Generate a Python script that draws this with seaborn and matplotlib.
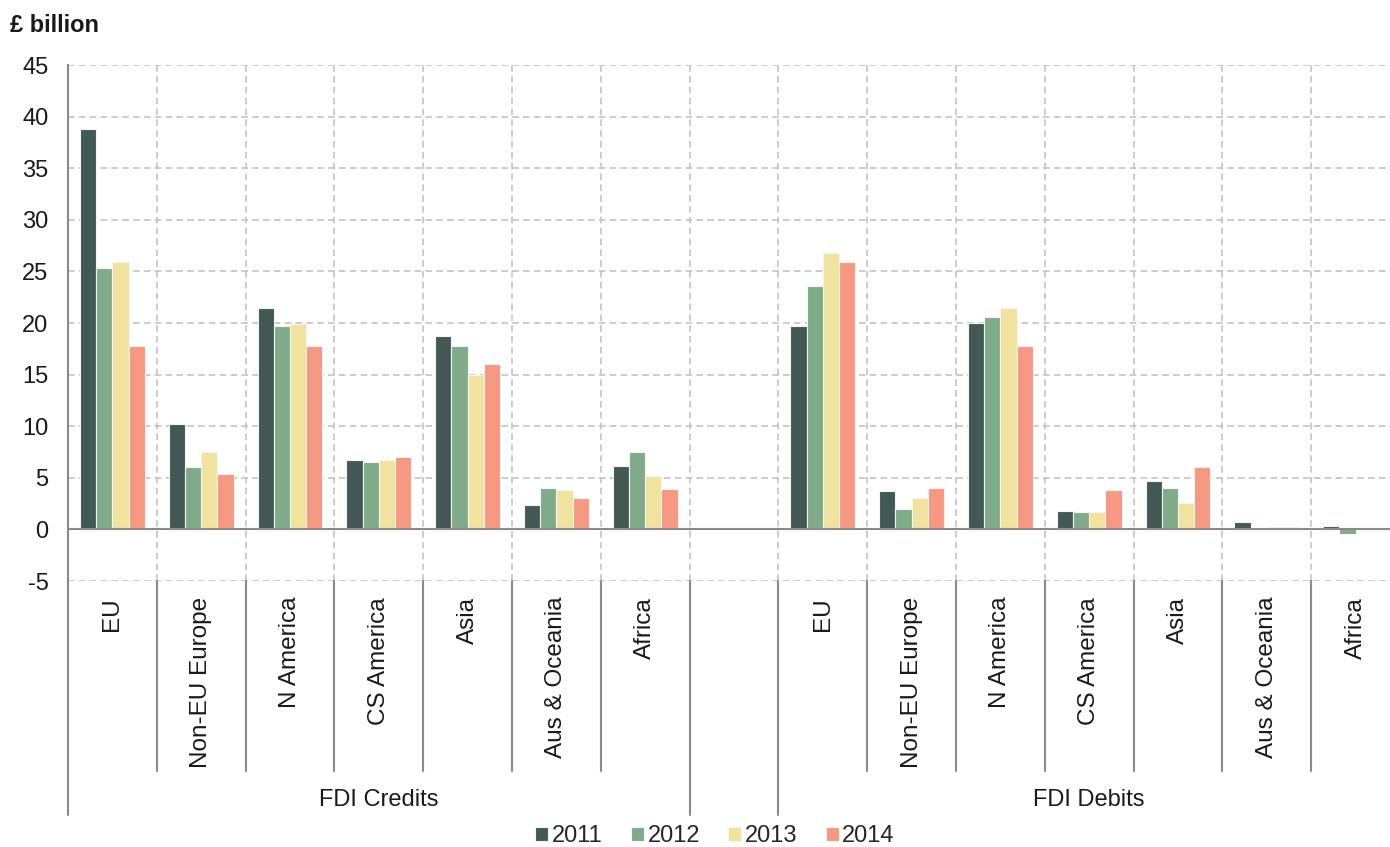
import matplotlib
matplotlib.use("Agg")
import matplotlib.pyplot as plt
import matplotlib.transforms as mtransforms
from matplotlib.lines import Line2D
import seaborn as sns
import pandas as pd

regions = ["EU", "Non-EU Europe", "N America", "CS America", "Asia", "Aus & Oceania", "Africa"]
years = ["2011", "2012", "2013", "2014"]
flows = ["FDI Credits", "FDI Debits"]

credits_2011 = [38.8, 10.2, 21.5, 6.7, 18.7, 2.4, 6.1]
credits_2012 = [25.3, 6.0, 19.7, 6.5, 17.8, 4.0, 7.5]
credits_2013 = [25.9, 7.5, 19.9, 6.7, 15.0, 3.8, 5.2]
credits_2014 = [17.8, 5.4, 17.8, 7.0, 16.0, 3.0, 3.9]

debits_2011 = [19.7, 3.7, 20.0, 1.8, 4.7, 0.7, 0.3]
debits_2012 = [23.6, 2.0, 20.6, 1.7, 4.0, 0.0, -0.4]
debits_2013 = [26.8, 3.0, 21.5, 1.7, 2.6, 0.25, 0.0]
debits_2014 = [25.9, 4.0, 17.8, 3.8, 6.0, 0.25, 0.0]

colors = ["#435955", "#80ab88", "#f1e39e", "#f79882"]

# long table, one row per bar
series = {
    "FDI Credits": [credits_2011, credits_2012, credits_2013, credits_2014],
    "FDI Debits": [debits_2011, debits_2012, debits_2013, debits_2014],
}
rows = []
for flow in flows:
    for year, vals in zip(years, series[flow]):
        for region, v in zip(regions, vals):
            rows.append({"slot": f"{flow}|{region}", "year": year, "value": v})
df = pd.DataFrame(rows)

order = [f"FDI Credits|{r}" for r in regions] + ["gap"] + [f"FDI Debits|{r}" for r in regions]

sns.set_style("white")
plt.rcParams["font.family"] = ["Liberation Sans", "DejaVu Sans"]
plt.rcParams["axes.unicode_minus"] = False

W, H = 1390, 847
fig = plt.figure(figsize=(W / 100, H / 100), dpi=100)

def fy(px):
    return 1 - px / H

ax = fig.add_axes([68 / W, fy(581), (1400 - 68) / W, (581 - 65) / H])

sns.barplot(
    data=df, x="slot", y="value", hue="year", order=order, hue_order=years,
    palette=colors, saturation=1, width=0.73, edgecolor="#f4f4f4", linewidth=0.8, ax=ax,
)

handles, labels = ax.get_legend_handles_labels()
if ax.get_legend() is not None:
    ax.get_legend().remove()

ax.set_xlim(-0.5, len(order) - 0.5)
ax.set_ylim(-5, 45)
ax.set_yticks(range(-5, 46, 5))
ax.set_xticks([i - 0.5 for i in range(len(order) + 1)])
ax.set_xticklabels([])
ax.set_xlabel("")
ax.set_ylabel("")

grid_kw = dict(color="#c4c4c4", linestyle=(0, (4, 2.5)), linewidth=1.2)
ax.grid(True, axis="both", **grid_kw)
ax.set_axisbelow(True)

for s in ["top", "right"]:
    ax.spines[s].set_visible(False)
ax.spines["left"].set_color("#8a8a8a")
ax.spines["left"].set_linewidth(1.5)
ax.spines["bottom"].set_position(("data", 0))
ax.spines["bottom"].set_color("#8a8a8a")
ax.spines["bottom"].set_linewidth(1.5)
ax.spines["bottom"].set_zorder(3)

ax.tick_params(axis="y", direction="out", length=6, width=1.2, color="#8a8a8a",
               labelsize=17, labelcolor="#1a1a1a", pad=8)
ax.tick_params(axis="x", direction="out", length=5, width=1.2, color="#8a8a8a")

# category labels and separators below the plot
trans = mtransforms.blended_transform_factory(ax.transData, fig.transFigure)
for i, slot in enumerate(order):
    if slot == "gap":
        continue
    ax.text(i, fy(597), slot.split("|")[1], rotation=90, ha="center", va="top",
            fontsize=17.5, color="#1a1a1a", transform=trans)

long_lines = {-0.5, 6.5, 7.5}
for b in [i - 0.5 for i in range(len(order) + 1)]:
    bottom = fy(815) if b in long_lines else fy(771)
    fig.add_artist(Line2D([b, b], [fy(581), bottom], transform=trans,
                          color="#8a8a8a", linewidth=1.5))

ax.text(3, fy(800), "FDI Credits", ha="center", va="center", fontsize=17,
        color="#1a1a1a", transform=trans)
ax.text(11, fy(800), "FDI Debits", ha="center", va="center", fontsize=17,
        color="#1a1a1a", transform=trans)

fig.text(10 / W, fy(26), "£ billion", fontsize=17, fontweight="bold",
         color="#1a1a1a", ha="left", va="center")

fig.legend(handles, labels, loc="center", bbox_to_anchor=(715 / W, fy(836)),
           ncol=4, frameon=False, fontsize=17, handlelength=0.55, handleheight=0.55,
           handletextpad=0.15, columnspacing=1.2, borderpad=0)

fig.savefig("out.png", dpi=100)
